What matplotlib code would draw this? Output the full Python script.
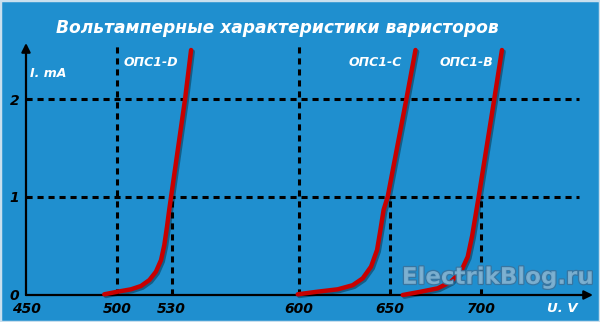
import matplotlib
matplotlib.use("Agg")
import matplotlib.pyplot as plt
import matplotlib.patheffects as pe
from matplotlib.patches import Rectangle

# varistor I-V curves (U in V, I in mA)
d_u = [493.0, 500.4, 507.7, 513.2, 517.8, 521.4, 524.2, 526.0, 527.5, 528.7, 529.7, 537.4, 540.7]
d_i = [0.007, 0.034, 0.058, 0.092, 0.153, 0.238, 0.357, 0.51, 0.70, 0.87, 1.0, 2.0, 2.5]
c_u = [599.3, 610.3, 621.3, 629.5, 635.0, 639.6, 642.9, 644.7, 646.5, 648.7, 659, 664]
c_i = [0.007, 0.034, 0.058, 0.10, 0.17, 0.29, 0.46, 0.66, 0.87, 1.0, 2.0, 2.5]
b_u = [657.0, 667.0, 676.2, 683.5, 689.0, 692.7, 695.1, 696.9, 698.7, 707.3, 711.5]
b_i = [0.0, 0.034, 0.068, 0.136, 0.24, 0.39, 0.60, 0.80, 1.0, 2.0, 2.5]

curve_names = ["ОПС1-D", "ОПС1-C", "ОПС1-B"]
name_pos_u = [503.8, 627, 677]

x_ticks = [450, 500, 530, 600, 650, 700]
y_ticks = [0, 1, 2]
full_guides = [500, 600]        # dashed verticals up to the top
short_guides = [530, 650, 700]  # dashed verticals up to I = 1

BG = "#1f8fcf"
RED = "#c80000"
FONT = dict(family="DejaVu Sans", weight="bold", style="italic")

fig = plt.figure(figsize=(6, 3.22), dpi=100, facecolor=BG)
ax = fig.add_axes([26 / 600, 27 / 322, 567 / 600, 252 / 322])
ax.set_facecolor(BG)
xmax = 450 + 567 / 1.82
ymax = 252 / 98
ax.set_xlim(450, xmax)
ax.set_ylim(0, ymax)
for s in ax.spines.values():
    s.set_visible(False)

# dashed guides
dash = dict(color="black", lw=2.2, ls=(0, (2.0, 1.6)), dash_capstyle="butt", zorder=2)
for y in [1, 2]:
    ax.plot([450, 754], [y, y], clip_on=False, **dash)
for x in full_guides:
    ax.plot([x, x], [0, 2.55], clip_on=False, **dash)
for x in short_guides:
    ax.plot([x, x], [0, 1], clip_on=False, **dash)

# axes with arrows
arrow = dict(arrowstyle="-|>", color="black", lw=1.6, mutation_scale=13, shrinkA=0, shrinkB=0)
ax.annotate("", xy=(xmax, 0), xytext=(450, 0), arrowprops=arrow, annotation_clip=False, zorder=3)
ax.annotate("", xy=(450, ymax), xytext=(450, 0), arrowprops=arrow, annotation_clip=False, zorder=3)

# curves
shadow = [pe.SimpleLineShadow(offset=(1.2, -1.2), shadow_color="black", alpha=0.35), pe.Normal()]
for u, i in [(d_u, d_i), (c_u, c_i), (b_u, b_i)]:
    ax.plot(u, i, color=RED, lw=3.2, solid_capstyle="round", solid_joinstyle="round",
            clip_on=False, zorder=4, path_effects=shadow)

for name, u in zip(curve_names, name_pos_u):
    ax.text(u, 2.37, name, color="white", fontsize=9, ha="left", va="center", **FONT)

ax.set_xticks(x_ticks)
ax.set_xticklabels([str(t) for t in x_ticks], **FONT, fontsize=10)
ax.set_yticks(y_ticks)
ax.set_yticklabels([str(t) for t in y_ticks], **FONT, fontsize=10)
ax.tick_params(length=0, colors="black")
ax.tick_params(axis="x", pad=5)
ax.tick_params(axis="y", pad=5)

ax.text(452.2, 2.265, "I. mA", color="white", fontsize=9, ha="left", va="center", **FONT)
ax.text(744.5, -0.133, "U. V", color="white", fontsize=9.5, ha="center", va="center", **FONT)

# watermark
ax.text(709, 0.18, "ElectrikBlog.ru", color="#7fb2d2", alpha=0.9, fontsize=16.5,
        family="DejaVu Sans", weight="bold", ha="center", va="center", zorder=5,
        path_effects=[pe.withStroke(linewidth=1.8, foreground="#3a739c")])

fig.text(0.4625, 1 - 28 / 322, "Вольтамперные характеристики варисторов",
         color="white", fontsize=12.3, ha="center", va="center", **FONT)

fig.patches.append(Rectangle((0, 0), 1, 1, transform=fig.transFigure, fill=False,
                             edgecolor="#c9dfee", lw=2.5))

fig.savefig("out.png", dpi=100, facecolor=BG)
